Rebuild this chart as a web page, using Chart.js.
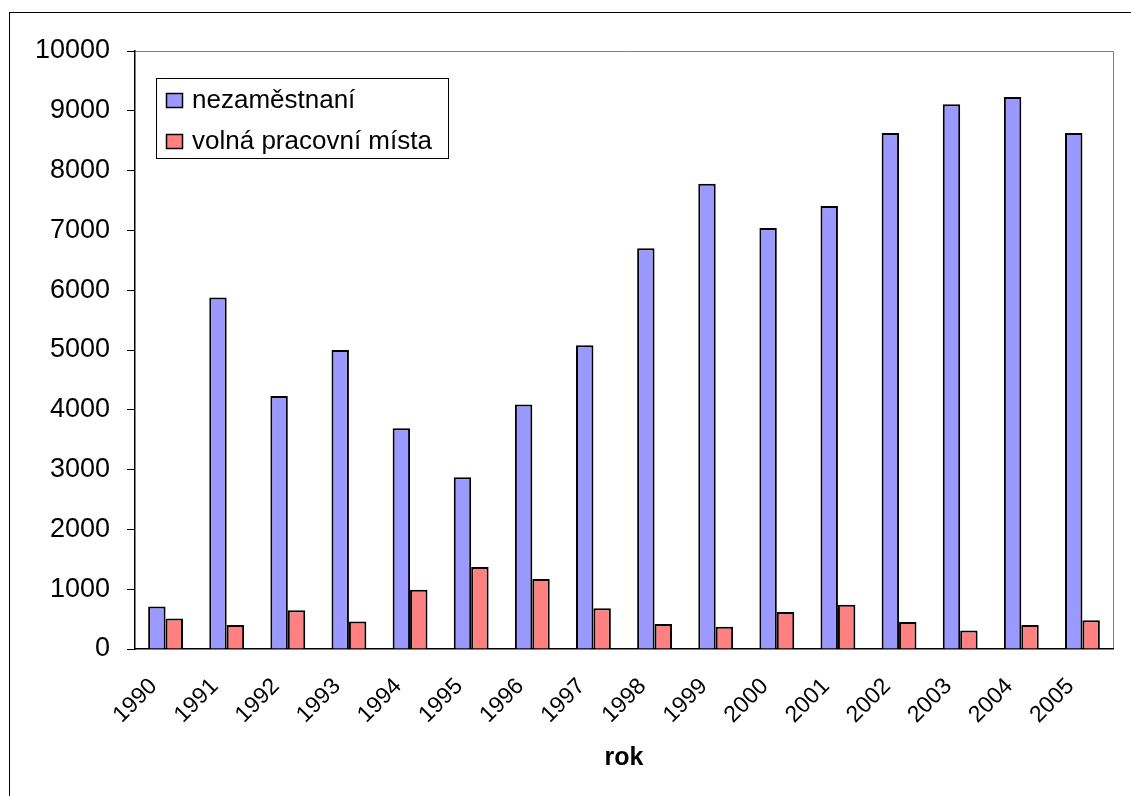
<!DOCTYPE html>
<html>
<head>
<meta charset="utf-8">
<script src="https://cdn.jsdelivr.net/npm/chart.js@4.4.1/dist/chart.umd.min.js"></script>
<style>
  html, body { margin: 0; padding: 0; background: #fff; }
  #wrap { width: 1131px; height: 796px; position: relative; }
</style>
</head>
<body>
<div id="wrap"><canvas id="c" width="1131" height="796"></canvas></div>
<script>
const years = ['1990','1991','1992','1993','1994','1995','1996','1997','1998','1999','2000','2001','2002','2003','2004','2005'];
const nezamestnani = [710, 5880, 4230, 5000, 3690, 2870, 4090, 5080, 6700, 7780, 7040, 7410, 8630, 9110, 9230, 8630];
const volnaMista = [510, 400, 650, 460, 990, 1370, 1170, 680, 420, 370, 620, 740, 450, 310, 400, 480];
const seriesNames = ['nezaměstnaní', 'volná pracovní místa'];
const yTicks = { min: 0, max: 10000, step: 1000 };
const xTitle = 'rok';

const FONT = "'Liberation Sans', Arial, sans-serif";

const framePlugin = {
  id: 'frame',
  beforeDraw(chart) {
    const ctx = chart.ctx;
    ctx.save();
    ctx.fillStyle = '#fff';
    ctx.fillRect(0, 0, chart.width, chart.height);
    ctx.strokeStyle = '#000';
    ctx.lineWidth = 1;
    ctx.strokeRect(9.5, 12.5, 1300, 900);
    const a = chart.chartArea;
    ctx.strokeStyle = '#808080';
    ctx.beginPath();
    ctx.moveTo(a.left, a.top + 0.5);
    ctx.lineTo(a.right + 0.5, a.top + 0.5);
    ctx.lineTo(a.right + 0.5, a.bottom);
    ctx.stroke();
    ctx.restore();
  },
  afterDraw(chart) {
    const ctx = chart.ctx;
    const a = chart.chartArea;
    const bx = a.left + 21, by = a.top + 27, bw = 292, bh = 80;
    ctx.save();
    ctx.fillStyle = '#fff';
    ctx.fillRect(bx, by, bw, bh);
    ctx.strokeStyle = '#000';
    ctx.lineWidth = 1;
    ctx.strokeRect(bx + 0.5, by + 0.5, bw, bh);
    ctx.font = '26px ' + FONT;
    ctx.textBaseline = 'middle';
    ctx.textAlign = 'left';
    chart.data.datasets.forEach((ds, i) => {
      const sy = by + 15 + i * 41;
      ctx.fillStyle = ds.backgroundColor;
      ctx.fillRect(bx + 10, sy, 17, 15);
      ctx.strokeStyle = '#000';
      ctx.lineWidth = 1.5;
      ctx.strokeRect(bx + 10.5, sy + 0.5, 16, 14);
      ctx.fillStyle = '#000';
      ctx.fillText(ds.label, bx + 36, sy + 8);
    });
    ctx.restore();
  }
};

new Chart(document.getElementById('c'), {
  type: 'bar',
  data: {
    labels: years,
    datasets: [
      { label: seriesNames[0], data: nezamestnani, backgroundColor: '#9999FF', borderColor: '#000', borderWidth: 2 },
      { label: seriesNames[1], data: volnaMista, backgroundColor: '#FF8080', borderColor: '#000', borderWidth: 2 }
    ]
  },
  options: {
    responsive: false,
    animation: false,
    devicePixelRatio: 1,
    layout: { padding: { left: 0, top: 51, right: 18, bottom: 0 } },
    datasets: { bar: { categoryPercentage: 0.57, barPercentage: 1.0 } },
    plugins: { legend: { display: false }, tooltip: { enabled: false } },
    scales: {
      x: {
        grid: { display: true, drawOnChartArea: false, drawTicks: false, color: '#000' },
        border: { display: true, color: '#000', width: 1.5 },
        ticks: {
          color: '#000', font: { family: FONT, size: 23 },
          minRotation: 45, maxRotation: 45, autoSkip: false, padding: 24, labelOffset: -12
        },
        title: {
          display: true, text: xTitle, color: '#000',
          font: { family: FONT, size: 25, weight: 'bold' },
          padding: { top: 0, bottom: 23 }
        },
        afterFit(scale) { scale.height = 147; }
      },
      y: {
        min: yTicks.min, max: yTicks.max,
        grid: { display: true, drawOnChartArea: false, drawTicks: true, tickLength: 8, color: '#000' },
        border: { display: true, color: '#000', width: 1.5 },
        ticks: {
          stepSize: yTicks.step, color: '#000', font: { family: FONT, size: 27 }, padding: 17,
          callback: v => String(v)
        },
        afterFit(scale) { scale.width = 135; }
      }
    }
  },
  plugins: [framePlugin]
});
</script>
</body>
</html>
